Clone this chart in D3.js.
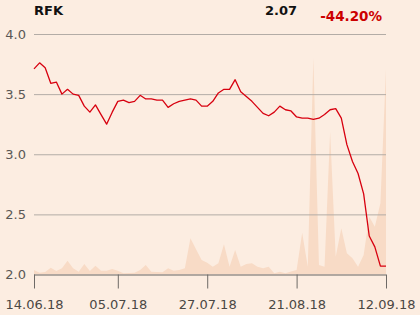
<!DOCTYPE html>
<html>
<head>
<meta charset="utf-8">
<script src="https://cdn.jsdelivr.net/npm/d3@7"></script>
<style>
body { margin: 0; background: #fcede1; }
svg { display: block; }
</style>
</head>
<body>
<script>
var ticker = "RFK";
var lastPrice = "2.07";
var change = "-44.20%";

// closing prices, one per trading day 14.06.18 .. 12.09.18
var prices = [3.71, 3.76, 3.72, 3.59, 3.60, 3.50, 3.54, 3.50, 3.49, 3.40,
	3.35, 3.41, 3.33, 3.25, 3.35, 3.44, 3.45, 3.43, 3.44, 3.49,
	3.46, 3.46, 3.45, 3.45, 3.39, 3.42, 3.44, 3.45, 3.46, 3.45,
	3.40, 3.40, 3.44, 3.51, 3.54, 3.54, 3.62, 3.52, 3.48, 3.44,
	3.39, 3.34, 3.32, 3.35, 3.40, 3.37, 3.36, 3.31, 3.30, 3.30,
	3.29, 3.30, 3.33, 3.37, 3.38, 3.30, 3.08, 2.94, 2.84, 2.67,
	2.32, 2.23, 2.07, 2.07];

// traded volume (thousands)
var volumes = [4.5, 1.8, 2.5, 6.8, 3.5, 6.2, 13.8, 6.2, 2.8, 10.5,
	3.5, 8.8, 3.8, 3.8, 5.5, 3.8, 1.2, 1.5, 1.8, 4.5,
	9.5, 2.8, 2.5, 2.2, 6.2, 3.8, 4.5, 6.2, 36.2, 25.2,
	14.5, 11.8, 7.8, 11.2, 30.2, 7.8, 24.5, 7.8, 10.5, 11.2,
	7.8, 6.2, 7.8, 1.2, 2.8, 1.2, 3.0, 4.5, 41.8, 7.8,
	216.5, 9.5, 7.8, 142.8, 17.8, 46.2, 21.2, 16.2, 7.8, 19.5,
	57.8, 47.8, 71.2, 205.5];

var yTicks = [2.0, 2.5, 3.0, 3.5, 4.0];
var xTickIdx = [0, 15, 31, 47, 63];
var xTickLabels = ["14.06.18", "05.07.18", "27.07.18", "21.08.18", "12.09.18"];

var w = 420, h = 315;
var mLeft = 34, mRight = 386, mTop = 34, mBottom = 274.5;

var svg = d3.select("body").append("svg")
	.attr("width", w)
	.attr("height", h);

var x = d3.scaleLinear()
	.domain([0, prices.length - 1])
	.range([mLeft, mRight]);
var y = d3.scaleLinear()
	.domain([2, 4])
	.range([mBottom, mTop]);
var yVol = d3.scaleLinear()
	.domain([0, d3.max(volumes)])
	.range([mBottom, 58]);

// volume area in the background
svg.append("path")
	.datum(volumes)
	.attr("fill", "#f8dbc6")
	.attr("d", d3.area()
		.x(function(d, i) { return x(i); })
		.y0(mBottom)
		.y1(function(d) { return yVol(d); }));

// gridlines + y labels
var yAxis = d3.axisLeft(y)
	.tickValues(yTicks)
	.tickSize(-(mRight - mLeft))
	.tickPadding(8)
	.tickFormat(d3.format(".1f"));
var gy = svg.append("g")
	.attr("transform", "translate(" + mLeft + ",0)")
	.call(yAxis);
gy.select(".domain").remove();
gy.selectAll("line").attr("stroke", "#b3aca6");
gy.selectAll("text")
	.attr("fill", "#5a5754")
	.attr("font-family", "DejaVu Sans")
	.attr("font-size", "13px");

// x axis
var xAxis = d3.axisBottom(x)
	.tickValues(xTickIdx)
	.tickSize(14)
	.tickPadding(11)
	.tickFormat(function(d, i) { return xTickLabels[i]; });
var gx = svg.append("g")
	.attr("transform", "translate(0," + mBottom + ")")
	.call(xAxis);
gx.select(".domain").attr("stroke", "#8a8580").attr("d", "M" + mLeft + ",0.5H" + mRight);
gx.selectAll("line").attr("stroke", "#6e6a66");
gx.selectAll("text")
	.attr("fill", "#4a4744")
	.attr("font-family", "DejaVu Sans")
	.attr("font-size", "13px");

// price line
svg.append("path")
	.datum(prices)
	.attr("fill", "none")
	.attr("stroke", "#d7000f")
	.attr("stroke-width", 1.3)
	.attr("stroke-linejoin", "round")
	.attr("d", d3.line()
		.x(function(d, i) { return x(i); })
		.y(function(d) { return y(d); }));

// header
svg.append("text")
	.attr("x", 34).attr("y", 15)
	.attr("font-family", "DejaVu Sans").attr("font-weight", "bold")
	.attr("font-size", "13px").attr("fill", "#111")
	.text(ticker);
svg.append("text")
	.attr("x", 297).attr("y", 15)
	.attr("text-anchor", "end")
	.attr("font-family", "DejaVu Sans").attr("font-weight", "bold")
	.attr("font-size", "13px").attr("fill", "#111")
	.text(lastPrice);
svg.append("text")
	.attr("x", 382).attr("y", 21)
	.attr("text-anchor", "end")
	.attr("font-family", "DejaVu Sans").attr("font-weight", "bold")
	.attr("font-size", "13.5px").attr("fill", "#cc0000")
	.text(change);
</script>
</body>
</html>
